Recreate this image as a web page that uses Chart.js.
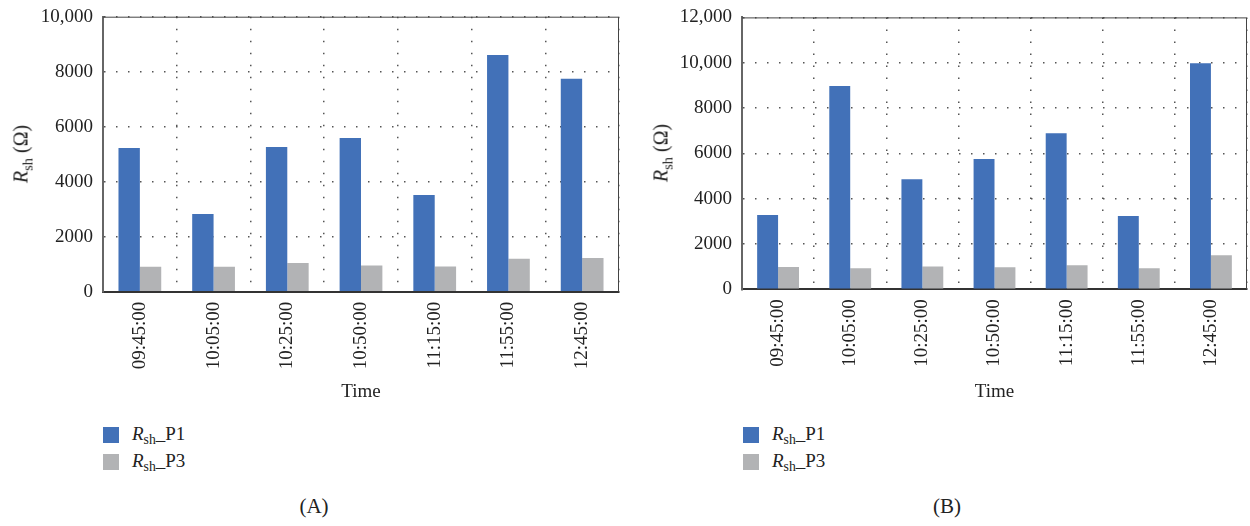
<!DOCTYPE html>
<html>
<head>
<meta charset="utf-8">
<script src="https://cdn.jsdelivr.net/npm/chart.js@4/dist/chart.umd.min.js"></script>
<style>
    html, body { margin: 0; padding: 0; background: #fff; }
    body { width: 1250px; height: 526px; position: relative; overflow: hidden; font-family: 'Liberation Serif', 'DejaVu Serif', serif; color: #222; }
    .panel { position: absolute; top: 0; height: 410px; }
    .y-title { position: absolute; font-size: 20px; white-space: nowrap; transform: translate(-50%, -50%) rotate(-90deg); }
    sub { font-size: 0.72em; vertical-align: -0.32em; line-height: 0; }
    .legend { position: absolute; font-size: 19px; }
    .legend-row { position: relative; height: 27px; }
    .legend-box { position: absolute; left: 0; top: 0; width: 16px; height: 16px; }
    .legend-text { position: absolute; left: 29px; top: -4px; white-space: nowrap; }
    .caption { position: absolute; font-size: 21px; transform: translateX(-50%); }
</style>
</head>
<body>
<div class="panel" style="left:0;width:625px"><canvas id="chart-a"></canvas></div>
<div class="panel" style="left:630px;width:620px"><canvas id="chart-b"></canvas></div>

<div class="y-title" style="left:21px;top:154px"><i>R</i><sub>sh</sub> (Ω)</div>
<div class="y-title" style="left:661px;top:153px"><i>R</i><sub>sh</sub> (Ω)</div>

<div class="legend" id="legend-a" style="left:103px;top:427px"></div>
<div class="legend" id="legend-b" style="left:743px;top:427px"></div>

<div class="caption" style="left:314px;top:494px">(A)</div>
<div class="caption" style="left:947px;top:494px">(B)</div>

<script>
const times = ['09:45:00', '10:05:00', '10:25:00', '10:50:00', '11:15:00', '11:55:00', '12:45:00'];

// panel (A)
const p1ValuesA = [5230, 2830, 5260, 5590, 3520, 8610, 7740];
const p3ValuesA = [910, 910, 1040, 950, 920, 1200, 1230];
const yMaxA = 10000;

// panel (B)
const p1ValuesB = [3280, 8970, 4860, 5750, 6890, 3230, 9980];
const p3ValuesB = [980, 930, 1010, 970, 1060, 930, 1500];
const yMaxB = 12000;

const yStep = 2000;
const seriesNames = ['P1', 'P3'];
const seriesColors = ['#4271b8', '#b2b3b5'];

const fontFamily = "'Liberation Serif', 'DejaVu Serif', serif";
const dotted = [1.5, 10.5];

// thin frame on top and right of the plot
const framePlugin = {
    id: 'frame',
    afterDraw(chart) {
        const { ctx, chartArea: a } = chart;
        ctx.save();
        ctx.strokeStyle = '#444';
        ctx.lineWidth = 1;
        ctx.beginPath();
        ctx.moveTo(a.left, a.top + 0.5);
        ctx.lineTo(a.right - 0.5, a.top + 0.5);
        ctx.lineTo(a.right - 0.5, a.bottom);
        ctx.stroke();
        ctx.restore();
    },
};

function formatTick(value) {
    return value >= 10000 ? value.toLocaleString('en-US') : String(value);
}

function buildChart(canvasId, p1, p3, yMax, box) {
    const canvas = document.getElementById(canvasId);

    // eslint-disable-next-line no-new
    new Chart(canvas, {
        type: 'bar',
        data: {
            labels: times,
            datasets: [p1, p3].map((values, i) => ({
                label: `Rsh_${seriesNames[i]}`,
                data: values,
                backgroundColor: seriesColors[i],
                borderWidth: 0,
                categoryPercentage: 0.58,
                barPercentage: 1,
            })),
        },
        options: {
            responsive: true,
            maintainAspectRatio: false,
            animation: false,
            layout: {
                padding: { top: box.top, right: box.right, left: 0, bottom: 0 },
            },
            plugins: {
                legend: { display: false },
                tooltip: { enabled: false },
            },
            scales: {
                x: {
                    afterFit(scale) {
                        scale.height = box.xHeight;
                    },
                    ticks: {
                        autoSkip: false,
                        minRotation: 90,
                        maxRotation: 90,
                        padding: 10,
                        color: '#222',
                        font: { family: fontFamily, size: 19 },
                    },
                    grid: {
                        offset: true,
                        color: '#555',
                        lineWidth: 1.5,
                        drawTicks: false,
                    },
                    border: { color: '#333', width: 2, dash: dotted },
                    title: {
                        display: true,
                        text: 'Time',
                        color: '#222',
                        font: { family: fontFamily, size: 19 },
                        padding: { top: 0, bottom: 7 },
                    },
                },
                y: {
                    min: 0,
                    max: yMax,
                    afterFit(scale) {
                        scale.width = box.yWidth;
                    },
                    ticks: {
                        stepSize: yStep,
                        padding: 4,
                        color: '#222',
                        font: { family: fontFamily, size: 19 },
                        callback(value) {
                            return formatTick(value);
                        },
                    },
                    grid: {
                        color(context) {
                            return context.tick && context.tick.value === 0 ? 'rgba(0,0,0,0)' : '#555';
                        },
                        lineWidth: 1.5,
                        drawTicks: true,
                        tickLength: 6,
                        tickColor: 'rgba(0,0,0,0)',
                    },
                    border: { color: '#666', width: 2, dash: dotted },
                },
            },
        },
        plugins: [framePlugin],
    });
}

function buildLegend(targetId) {
    const target = document.getElementById(targetId);
    target.innerHTML = seriesNames.map((name, i) => (
        `<div class="legend-row"><span class="legend-box" style="background:${seriesColors[i]}"></span>`
        + `<span class="legend-text"><i>R</i><sub>sh</sub>_${name}</span></div>`
    )).join('');
}

buildChart('chart-a', p1ValuesA, p3ValuesA, yMaxA, { top: 16.7, right: 6, yWidth: 103, xHeight: 118.3 });
buildChart('chart-b', p1ValuesB, p3ValuesB, yMaxB, { top: 17.4, right: 3, yWidth: 112, xHeight: 120.7 });
buildLegend('legend-a');
buildLegend('legend-b');
</script>
</body>
</html>
